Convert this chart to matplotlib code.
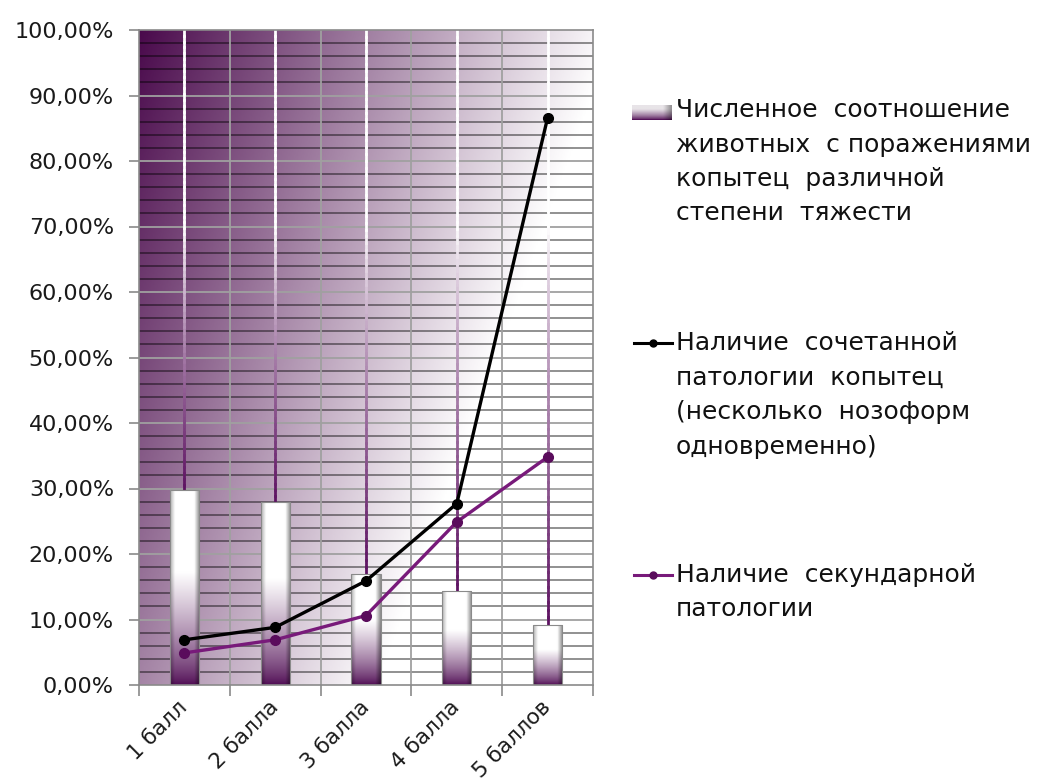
import numpy as np
import matplotlib
matplotlib.use("Agg")
import matplotlib.pyplot as plt
from matplotlib.colors import LinearSegmentedColormap, to_rgb
from matplotlib.collections import LineCollection
from matplotlib.lines import Line2D

# data (percent of animals)
grades = ["1 балл", "2 балла", "3 балла", "4 балла", "5 баллов"]
share_lesions = [29.7, 28.0, 17.0, 14.4, 9.2]      # bars
combined_path = [6.9, 8.8, 15.9, 27.7, 86.6]       # black line
secondary_path = [4.9, 6.9, 10.6, 24.9, 34.8]      # purple line

legend_texts = [
    ["Численное  соотношение", "животных  с поражениями", "копытец  различной", "степени  тяжести"],
    ["Наличие  сочетанной", "патологии  копытец", "(несколько  нозоформ", "одновременно)"],
    ["Наличие  секундарной", "патологии"],
]

DARK = "#4a0a4c"
PURPLE_LINE = "#781a7a"
PURPLE_MARK = "#5a0c5c"
GRID_LIGHT = "#a0a0a0"

plt.rcParams["font.family"] = ["DejaVu Sans"]

fig = plt.figure(figsize=(10.49, 7.83), dpi=100)
ax = fig.add_axes([139 / 1049, 1 - 685 / 783, 454 / 1049, 655 / 783])

x = np.arange(len(grades))
ax.set_xlim(-0.5, len(grades) - 0.5)
ax.set_ylim(0, 100)

# diagonal background: dark purple top-left fading to white bottom-right
bg_cmap = LinearSegmentedColormap.from_list("bg", [DARK, "#ffffff"])
u = np.linspace(0, 1, 300)[None, :]
v = np.linspace(0, 1, 300)[:, None]
t = np.clip(0.95 * u + 0.5 * v, 0, 1)
ax.imshow(t, cmap=bg_cmap, vmin=0, vmax=1, extent=[-0.5, 4.5, 0, 100],
          origin="upper", aspect="auto", zorder=0, interpolation="bilinear")

# horizontal grid: dark every 2 %, lighter on the 10 % steps
for yv in np.arange(2, 100, 2):
    if yv % 10 == 0:
        ax.axhline(yv, color=GRID_LIGHT, lw=1.3, zorder=0.5)
    else:
        ax.axhline(yv, color="black", alpha=0.55, lw=1.1, zorder=0.5)
for xb in np.arange(0.5, len(grades) - 0.5, 1):
    ax.axvline(xb, color=GRID_LIGHT, lw=1.3, zorder=0.6)

# centre lines above each bar, white at the top turning purple towards the bar
purple = np.array(to_rgb("#5c1060"))
white = np.ones(3)
for xi, top in zip(x, share_lesions):
    ys = np.linspace(top, 100, 80)
    segs = [[(xi, ys[i]), (xi, ys[i + 1])] for i in range(len(ys) - 1)]
    ym = 0.5 * (ys[:-1] + ys[1:])
    f = np.clip((70 - ym) / (70 - top), 0, 1)[:, None] ** 0.8
    cols = white * (1 - f) + purple * f
    ax.add_collection(LineCollection(segs, colors=cols, linewidths=2.0,
                                     capstyle="projecting", zorder=1.5))

# bars with a shaded, bevelled face
bars = ax.bar(x, share_lesions, width=0.32, facecolor="none",
              edgecolor="#8a8a8a", linewidth=0.8, zorder=2.5)
nx, ny = 40, 200
s = np.linspace(0, 1, nx)[None, :]
r = np.linspace(1, 0, ny)[:, None]
shade = 1 - 0.30 * np.clip((0.16 - s) / 0.16, 0, 1) - 0.45 * np.clip((s - 0.82) / 0.18, 0, 1)
bar_dark = np.array(to_rgb("#4e0a52"))
for b in bars:
    x0, w, h = b.get_x(), b.get_width(), b.get_height()
    tt = np.clip(r / 0.58, 0, 1) ** 0.75
    face = bar_dark[None, None, :] * (1 - tt[..., None]) + tt[..., None] * np.ones(3)
    face = face * shade[..., None]
    im = ax.imshow(face, extent=[x0, x0 + w, 0, h], origin="upper",
                   aspect="auto", zorder=2, interpolation="bilinear")
    im.set_clip_path(b)

# lines
ax.plot(x, combined_path, color="black", lw=2.4, marker="o", ms=7, zorder=4)
ax.plot(x, secondary_path, color=PURPLE_LINE, lw=2.4, marker="o", ms=7,
        markerfacecolor=PURPLE_MARK, markeredgecolor=PURPLE_MARK, zorder=4)

# axes, ticks
for sp in ax.spines.values():
    sp.set_color("#8a8a8a")
    sp.set_linewidth(1.2)
    sp.set_zorder(5)
ax.set_yticks(np.arange(0, 101, 10))
ax.set_yticklabels([f"{v:.2f}%".replace(".", ",") for v in np.arange(0, 101, 10)])
ax.tick_params(axis="y", length=7, width=1.2, color="#8a8a8a", pad=11,
               labelsize=16, labelcolor="#1a1a1a")
ax.set_xticks(np.arange(-0.5, len(grades), 1))
ax.set_xticklabels([])
ax.tick_params(axis="x", which="major", length=8, width=1.2, color="#8a8a8a")
ax.set_xticks(x, minor=True)
ax.set_xticklabels(grades, minor=True, rotation=45, ha="right", va="center",
                   rotation_mode="anchor", fontsize=15.5, color="#1a1a1a")
ax.tick_params(axis="x", which="minor", length=0, pad=14)

# legend drawn by hand on the right
tx = 676 / 1049
step = 34.5 / 783
starts = [110, 343, 575]
for lines, y0 in zip(legend_texts, starts):
    for i, ln in enumerate(lines):
        fig.text(tx, 1 - y0 / 783 - i * step, ln, fontsize=18, va="center",
                 ha="left", color="#111111")

# bar swatch in legend: dark at the bottom, light at the top
sw = fig.add_axes([632 / 1049, 1 - 120 / 783, 40 / 1049, 15 / 783])
sw.set_axis_off()
sw_t = np.linspace(1, 0, 20)[:, None] * np.ones((1, 20))
sw_t = np.clip(sw_t / 0.7, 0, 1) ** 0.7
sw_face = bar_dark[None, None, :] * (1 - sw_t[..., None]) + sw_t[..., None] * np.array(to_rgb("#e8e4e8"))
sw_face = sw_face * (1 - 0.35 * np.clip((np.linspace(0, 1, 20) - 0.8) / 0.2, 0, 1))[None, :, None]
sw.imshow(sw_face, aspect="auto", interpolation="bilinear")

fig.add_artist(Line2D([634 / 1049, 672 / 1049], [1 - 343 / 783] * 2, color="black", lw=2.2))
fig.add_artist(Line2D([653 / 1049], [1 - 343 / 783], color="black", marker="o", ms=5))
fig.add_artist(Line2D([634 / 1049, 672 / 1049], [1 - 575 / 783] * 2, color=PURPLE_LINE, lw=2.2))
fig.add_artist(Line2D([653 / 1049], [1 - 575 / 783], color=PURPLE_MARK, marker="o", ms=5))

fig.savefig("out.png", dpi=100)
